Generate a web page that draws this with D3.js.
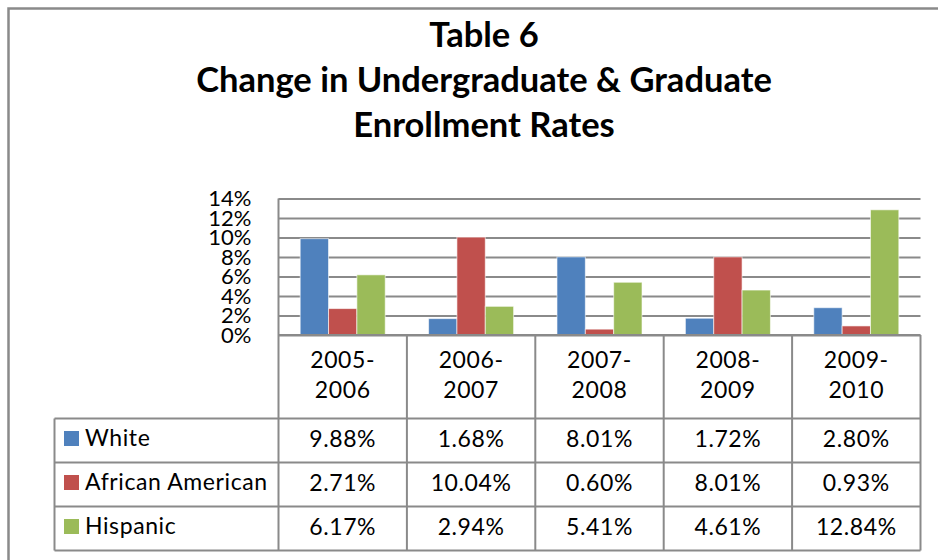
<!DOCTYPE html>
<html>
<head>
<meta charset="utf-8">
<script src="https://cdn.jsdelivr.net/npm/d3@7"></script>
<style>
  html, body { margin: 0; padding: 0; background: #fff; }
  svg { display: block; }
  text { font-family: Lato, "Open Sans", sans-serif; fill: #000; }
</style>
</head>
<body>
<svg id="chart" width="938" height="560"></svg>
<script>
// Enrollment change by academic year and group (percent)
const categories = ["2005-2006", "2006-2007", "2007-2008", "2008-2009", "2009-2010"];
const seriesNames = ["White", "African American", "Hispanic"];
const white = [9.88, 1.68, 8.01, 1.72, 2.80];
const africanAmerican = [2.71, 10.04, 0.60, 8.01, 0.93];
const hispanic = [6.17, 2.94, 5.41, 4.61, 12.84];
const yTicks = [0, 2, 4, 6, 8, 10, 12, 14];
const titleLines = ["Table 6", "Change in Undergraduate & Graduate", "Enrollment Rates"];

const seriesValues = [white, africanAmerican, hispanic];
const colors = ["#4F81BD", "#C0504D", "#9BBB59"];
const lineColor = "#8a8a8a";
const bodySize = 23, bodySpacing = "0.6px";

const svg = d3.select("#chart");

// outer chart frame (runs past the right and bottom edges)
svg.append("rect")
  .attr("x", 8.5).attr("y", 8.5)
  .attr("width", 960).attr("height", 600)
  .attr("fill", "#fff")
  .attr("stroke", lineColor).attr("stroke-width", 2.5);

// title
svg.append("g").selectAll("text")
  .data(titleLines)
  .join("text")
  .attr("x", 484)
  .attr("y", (d, i) => 47 + i * 45)
  .attr("text-anchor", "middle")
  .attr("font-weight", 700)
  .attr("font-size", 34.5)
  .text(d => d);

// plot geometry
const plotLeft = 278.5, plotRight = 920.5, plotTop = 198.5, plotBottom = 335;
const tableLeft = 54.5;
const rowTops = [418.5, 462.5, 506.5, 550.5];

const x = d3.scaleBand().domain(categories).range([plotLeft, plotRight]).padding(0);
const xInner = d3.scaleBand().domain(seriesNames).range([0, x.bandwidth()])
  .paddingInner(0).paddingOuter(0.765);
const y = d3.scaleLinear().domain([0, 14]).range([plotBottom, plotTop]);

// gridlines and y tick labels
const yAxis = d3.axisLeft(y)
  .tickValues(yTicks)
  .tickFormat(d => d + "%")
  .tickSize(-(plotRight - plotLeft))
  .tickPadding(27);
const yg = svg.append("g")
  .attr("transform", `translate(${plotLeft},0)`)
  .call(yAxis);
yg.select(".domain").remove();
yg.selectAll(".tick line").attr("stroke", lineColor).attr("stroke-width", 2);
yg.selectAll(".tick text")
  .attr("font-size", 22)
  .attr("fill", "#000")
  .style("font-family", "Lato, 'Open Sans', sans-serif");

// bars
const groups = svg.append("g").selectAll("g")
  .data(seriesNames)
  .join("g")
  .attr("fill", (d, i) => colors[i]);
groups.selectAll("rect")
  .data((s, si) => categories.map((c, ci) => ({ c, s, v: seriesValues[si][ci] })))
  .join("rect")
  .attr("x", d => x(d.c) + xInner(d.s))
  .attr("width", xInner.bandwidth())
  .attr("y", d => y(d.v))
  .attr("height", d => y(0) - y(d.v))
  .attr("stroke", "#ffffff").attr("stroke-opacity", 0.6).attr("stroke-width", 1);

// data table lines
const lines = svg.append("g")
  .attr("stroke", lineColor).attr("stroke-width", 2).attr("fill", "none");
// axis line
lines.append("line")
  .attr("x1", plotLeft).attr("x2", plotRight)
  .attr("y1", plotBottom).attr("y2", plotBottom);
// left axis line through the table
lines.append("line")
  .attr("x1", plotLeft).attr("x2", plotLeft)
  .attr("y1", plotTop).attr("y2", rowTops[3]);
// category separators
categories.forEach(c => {
  const xr = x(c) + x.bandwidth();
  lines.append("line")
    .attr("x1", xr).attr("x2", xr)
    .attr("y1", plotBottom).attr("y2", rowTops[3]);
});
// row separators
rowTops.forEach(r => {
  lines.append("line")
    .attr("x1", tableLeft).attr("x2", plotRight)
    .attr("y1", r).attr("y2", r);
});
lines.append("line")
  .attr("x1", tableLeft).attr("x2", tableLeft)
  .attr("y1", rowTops[0]).attr("y2", rowTops[3]);

// category header labels (two lines each)
const head = svg.append("g").selectAll("text")
  .data(categories)
  .join("text")
  .attr("text-anchor", "middle")
  .attr("font-size", bodySize)
  .style("letter-spacing", bodySpacing);
head.each(function(d) {
  const parts = d.split("-");
  const t = d3.select(this);
  t.append("tspan").attr("x", x(d) + x.bandwidth() / 2).attr("y", 368).text(parts[0] + "-");
  t.append("tspan").attr("x", x(d) + x.bandwidth() / 2).attr("y", 398).text(parts[1]);
});

// legend keys + series names
const rows = svg.append("g").selectAll("g")
  .data(seriesNames)
  .join("g")
  .attr("transform", (d, i) => `translate(0,${rowTops[i]})`);
rows.append("rect")
  .attr("x", 64).attr("y", 12.5)
  .attr("width", 15).attr("height", 15)
  .attr("fill", (d, i) => colors[i]);
rows.append("text")
  .attr("x", 85).attr("y", 27)
  .attr("font-size", bodySize)
  .style("letter-spacing", bodySpacing)
  .text(d => d);

// values
rows.selectAll("text.val")
  .data((s, si) => categories.map((c, ci) => ({ c, v: seriesValues[si][ci] })))
  .join("text")
  .attr("class", "val")
  .attr("x", d => x(d.c) + x.bandwidth() / 2)
  .attr("y", 28)
  .attr("text-anchor", "middle")
  .attr("font-size", bodySize)
  .style("letter-spacing", bodySpacing)
  .text(d => d.v.toFixed(2) + "%");
</script>
</body>
</html>
